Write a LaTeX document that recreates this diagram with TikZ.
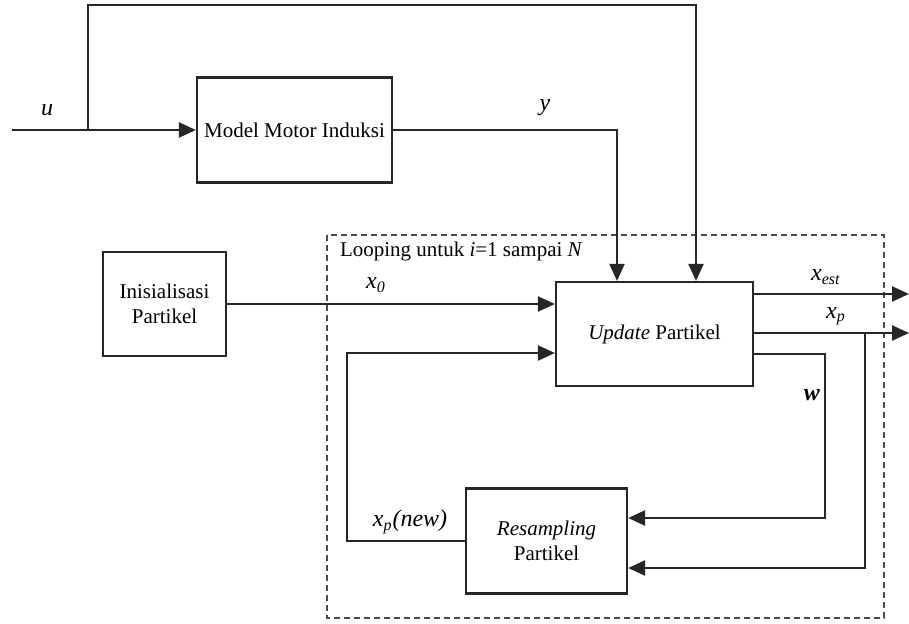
\documentclass[tikz,border=0pt]{standalone}
\usepackage{fontspec}
\setmainfont{Liberation Serif}
\usetikzlibrary{arrows.meta}
\newcommand{\var}[2]{\textit{#1}\textsubscript{\textit{#2}}}
\tikzset{block/.style={black,draw=black!85,line width=1.1pt,fill=white,rectangle,align=center,font=\fontsize{10.5}{12.5}\selectfont}}
\tikzset{arr/.style={draw=black!85,line width=1.1pt,-{Triangle[length=8.5pt,width=7.5pt]}}}
\tikzset{lbl/.style={font=\fontsize{12}{14}\selectfont}}

\begin{document}
\begin{tikzpicture}[x=0.5pt,y=-0.5pt]
    \useasboundingbox (0,0) rectangle (909,624);

    % loop frame
    \draw[black!70,dash pattern=on 3pt off 2pt,line width=0.6pt] (327,235) rectangle (884,618);
    \node[anchor=west,font=\fontsize{10.5}{12}\selectfont] (looptxt) at (333,251)
    {Looping untuk \textit{i}=1 sampai \textit{N}};

    \node[block,minimum width=97.5pt,minimum height=52.5pt] (model) at (294.5,130)
    {Model Motor Induksi};

    \node[block,minimum width=61.5pt,minimum height=52pt] (init) at (164.5,304)
    {Inisialisasi\\Partikel};

    \node[block,minimum width=98.5pt,minimum height=52pt] (update) at (654.5,334)
    {\textit{Update} Partikel};

    \node[block,minimum width=80.5pt,minimum height=52.5pt] (resamp) at (546.5,541)
    {\textit{Resampling}\\Partikel};

    \coordinate (uin) at (12,130);
    \coordinate (ubr) at (88,130);
    \coordinate (utop) at (696,5);
    \coordinate (ytop) at (617,130);
    \coordinate (xest) at (909,294);
    \coordinate (xp) at (909,333);
    \coordinate (xpbr) at (865,333);
    \coordinate (xpdn) at (865,568);
    \coordinate (wr) at (825,354);
    \coordinate (wd) at (825,518);
    \coordinate (nl) at (347,541);
    \coordinate (nu) at (347,353);

    \draw[arr] (uin) -- (model.west);
    \draw[arr] (ubr) |- (utop) -- (utop |- update.north);
    \draw[arr] (model.east) -| (update.north -| ytop);
    \draw[arr] (init.east) -- (init.east -| update.west);
    \draw[arr] (update.east |- xest) -- (xest);
    \draw[arr] (update.east |- xp) -- (xp);
    \draw[arr] (xpbr) -- (xpdn) -- (xpdn -| resamp.east);
    \draw[arr] (update.east |- wr) -- (wr) -- (wd) -- (wd -| resamp.east);
    \draw[arr] (resamp.west) -- (nl) -- (nu) -- (nu -| update.west);

    \node[lbl] (ulbl) at (47,110) {\textit{u}};
    \node[lbl] (ylbl) at (545,108) {\textit{y}};
    \node[lbl] (x0lbl) at (376,285) {\var{x}{0}};
    \node[lbl] (xestlbl) at (826,277) {\var{x}{est}};
    \node[lbl] (xplbl) at (836,316) {\var{x}{p}};
    \node[lbl] (wlbl) at (812,395) {\textbf{\textit{w}}};
    \node[lbl] (newlbl) at (410,522) {\var{x}{p}\textit{(new)}};
\end{tikzpicture}
\end{document}
